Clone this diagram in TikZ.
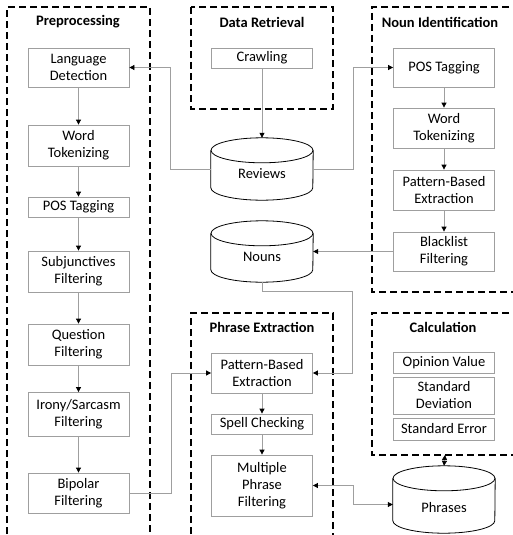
\documentclass[tikz,border=0pt]{standalone}
\usepackage{fontspec}
\setmainfont{Carlito}
\usetikzlibrary{arrows.meta}

\begin{document}
\begin{tikzpicture}[
    x=1pt, y=-1pt,
    font=\fontsize{14.5}{17}\selectfont,
    box/.style={rectangle, draw=gray!75, line width=0.8pt, align=center, minimum width=101pt, inner sep=1pt},
    store/.style={rectangle, minimum width=102pt, inner sep=0pt, text height=22pt, text depth=3pt},
    group/.style={draw=black, line width=1.3pt, dash pattern=on 7pt off 4pt},
    title/.style={font=\fontsize{14.5}{17}\selectfont\bfseries},
    arrow/.style={draw=gray!75, line width=0.8pt, -{Triangle[length=5pt,width=5pt,black]}},
    dblarrow/.style={draw=gray!75, line width=0.8pt, {Triangle[length=5pt,width=5pt,black]}-{Triangle[length=5pt,width=5pt,black]}}
]
    \useasboundingbox (0,0) rectangle (512,535);

    % Groups
    \draw[group] (7,545) -- (7,7) -- (150,7) -- (150,545);
    \draw[group] (191,7) rectangle (333,109);
    \draw[group] (520,7) -- (372,7) -- (372,292) -- (520,292);
    \draw[group] (191,545) -- (191,313) -- (333,313) -- (333,545);
    \draw[group] (520,313) -- (372,313) -- (372,455) -- (520,455);
    \coordinate (calc) at (445,455);

    % Titles
    \node[title] (pretitle) at (78,22) {Preprocessing};
    \node[title] (rettitle) at (262,22) {Data Retrieval};
    \node[title] (nountitle) at (440,22) {Noun Identification};
    \node[title] (phrtitle) at (262,327) {Phrase Extraction};
    \node[title] (calctitle) at (443,327) {Calculation};

    % Preprocessing
    \node[box, minimum height=39pt] (langdet) at (78.5,67.5) {Language\\Detection};
    \node[box, minimum height=41pt] (wordtok) at (78.5,145.5) {Word\\Tokenizing};
    \node[box, minimum height=20pt] (postag) at (78.5,207) {POS Tagging};
    \node[box, minimum height=41pt] (subj) at (78.5,271.5) {Subjunctives\\Filtering};
    \node[box, minimum height=41pt] (question) at (78.5,344.5) {Question\\Filtering};
    \node[box, minimum height=44pt] (irony) at (78.5,414.5) {Irony/Sarcasm\\Filtering};
    \node[box, minimum height=40pt] (bipolar) at (78.5,493) {Bipolar\\Filtering};

    % Data Retrieval
    \node[box, minimum height=20pt] (crawling) at (262,58) {Crawling};
    \node[store, minimum height=62pt] (reviews) at (262,169) {Reviews};
    \node[store, minimum height=61pt] (nouns) at (262,251.5) {Nouns};

    % Noun Identification
    \node[box, minimum height=39pt] (npostag) at (444,67.5) {POS Tagging};
    \node[box, minimum height=40pt] (nwordtok) at (444,128) {Word\\Tokenizing};
    \node[box, minimum height=40pt] (npattern) at (444,190) {Pattern-Based\\Extraction};
    \node[box, minimum height=39pt] (blacklist) at (444,251.5) {Blacklist\\Filtering};

    % Phrase Extraction
    \node[box, minimum height=40pt] (ppattern) at (262,373) {Pattern-Based\\Extraction};
    \node[box, minimum height=20pt] (spell) at (262,424) {Spell Checking};
    \node[box, minimum height=61pt] (multiple) at (262,485.5) {Multiple\\Phrase\\Filtering};

    % Calculation
    \node[box, minimum height=21pt] (opinion) at (444,363) {Opinion Value};
    \node[box, minimum height=37pt] (stddev) at (444,395.5) {Standard\\Deviation};
    \node[box, minimum height=22pt] (stderr) at (444,429) {Standard Error};
    \node[store, minimum height=67pt, text height=28pt] (phrases) at (444,499.5) {Phrases};

    % Cylinders
    \foreach \s in {reviews,nouns,phrases}{
        \draw[line width=0.8pt] ([yshift=-12.5pt]\s.north west) -- ([yshift=12.5pt]\s.south west)
            arc[start angle=180, end angle=360, x radius=51pt, y radius=12.5pt]
            -- ([yshift=-12.5pt]\s.north east);
        \draw[line width=0.8pt] ([yshift=-12.5pt]\s.north) ellipse[x radius=51pt, y radius=12.5pt];
    }

    % Arrows
    \draw[arrow] (crawling) -- (reviews);
    \draw[arrow] (reviews.west) -- ++(-40,0) |- (langdet.east);
    \draw[arrow] (reviews.east) -- ++(40,0) |- (npostag.west);
    \draw[arrow] (langdet) -- (wordtok);
    \draw[arrow] (wordtok) -- (postag);
    \draw[arrow] (postag) -- (subj);
    \draw[arrow] (subj) -- (question);
    \draw[arrow] (question) -- (irony);
    \draw[arrow] (irony) -- (bipolar);
    \draw[arrow] (npostag) -- (nwordtok);
    \draw[arrow] (nwordtok) -- (npattern);
    \draw[arrow] (npattern) -- (blacklist);
    \draw[arrow] (blacklist) -- (nouns);
    \draw[arrow] (nouns.south) -- ++(0,9) -| ([xshift=39pt]ppattern.east) -- (ppattern.east);
    \draw[arrow] (bipolar.east) -- ++(42,0) |- (ppattern.west);
    \draw[arrow] (ppattern) -- (spell);
    \draw[arrow] (spell) -- (multiple);
    \draw[dblarrow] (multiple.east) -- ++(40,0) |- ([yshift=-5pt]phrases.west);
    \draw[dblarrow] (calc) -- (phrases.north);

\end{tikzpicture}
\end{document}
